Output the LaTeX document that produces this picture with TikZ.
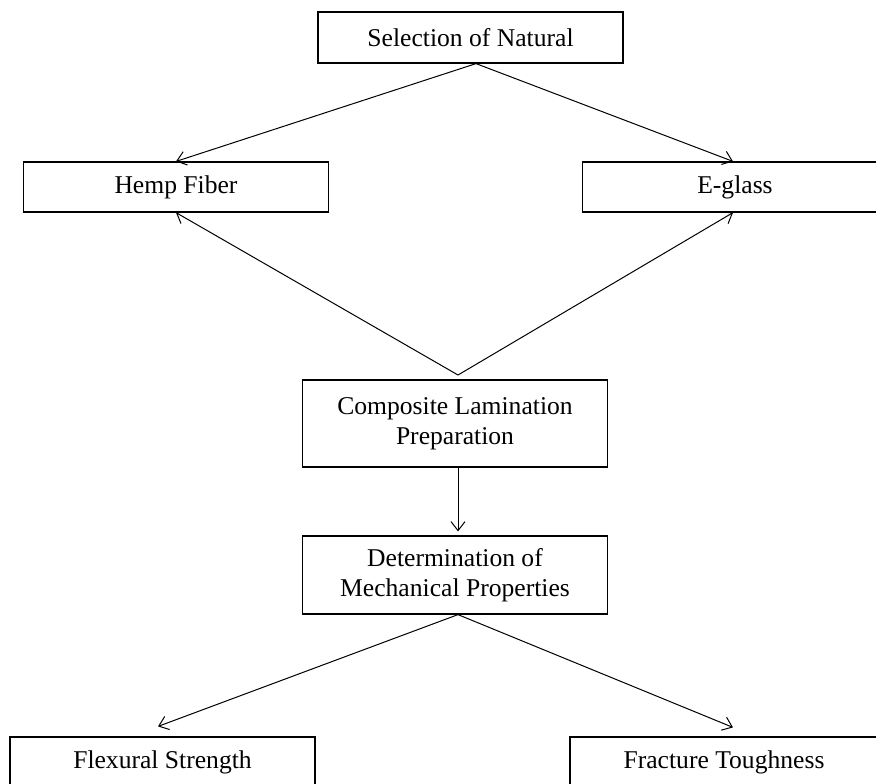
\documentclass[tikz,border=0pt]{standalone}
\usepackage{fontspec}
\setmainfont{Liberation Serif}
\usetikzlibrary{arrows.meta}

\begin{document}
\begin{tikzpicture}[x=0.5pt,y=-0.5pt,
  box/.style={draw,line width=0.6pt,align=center,inner sep=0pt,
    minimum width=152.5pt,font=\fontsize{12.8}{15}\selectfont},
  link/.style={-{Straight Barb[length=4.5pt,width=7pt]},line width=0.5pt}]
  \useasboundingbox (0,0) rectangle (876,783);

  % Top: selection
  \node[box,minimum height=25.5pt] (sel) at (470.5,37.5) {Selection of Natural};

  % Fibres
  \node[box,minimum height=25pt] (hemp) at (176,187) {Hemp Fiber};
  \node[box,minimum height=25pt] (glass) at (735,187) {E-glass};

  % Middle
  \node[box,minimum height=43.5pt] (comp) at (455,423.5) {Composite Lamination\\Preparation};
  \coordinate (fork) at (458,375);
  \node[box,minimum height=39pt] (mech) at (455,575) {Determination of\\Mechanical Properties};

  % Bottom: tests
  \node[box,minimum height=25pt] (flex) at (162.5,762) {Flexural Strength};
  \node[box,minimum width=154pt,minimum height=25pt] (frac) at (724,762) {Fracture Toughness};

  % Arrows
  \draw[link] ([xshift=2.75pt]sel.south) -- (hemp.north);
  \draw[link] ([xshift=2.75pt]sel.south) -- ([xshift=-1pt]glass.north);
  \draw[link] (fork) -- (hemp.south);
  \draw[link] (fork) -- ([xshift=-1pt]glass.south);
  \draw[link] ([xshift=1.5pt]comp.south) -- ([xshift=1.5pt,yshift=2pt]mech.north);
  \draw[link] ([xshift=1.5pt]mech.south) -- ([xshift=-2.25pt,yshift=5pt]flex.north);
  \draw[link] ([xshift=1.5pt]mech.south) -- ([xshift=4.5pt,yshift=4.5pt]frac.north);
\end{tikzpicture}
\end{document}
